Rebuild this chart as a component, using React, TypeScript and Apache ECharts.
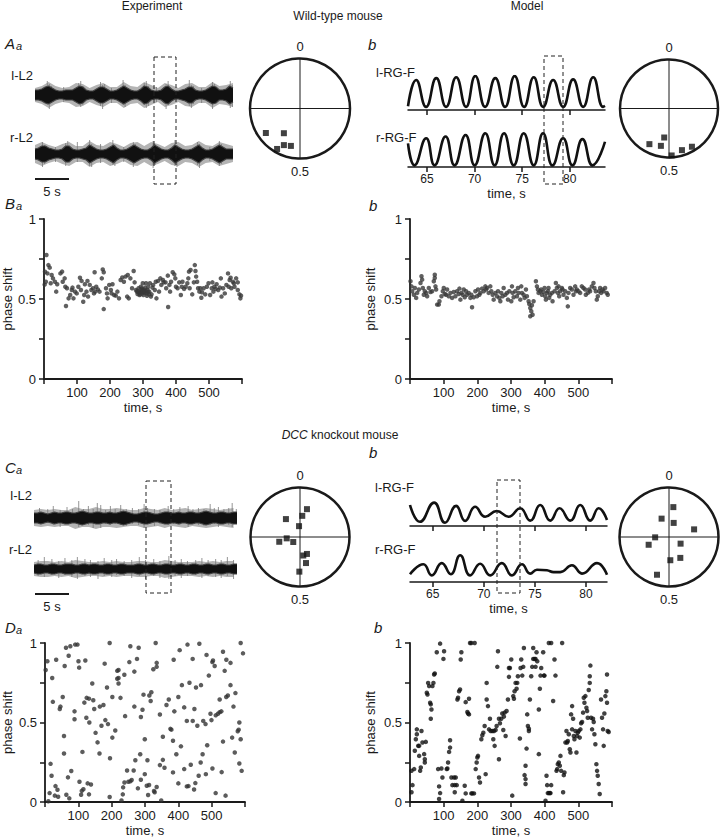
import React, { useEffect, useRef } from "react";
import * as echarts from "echarts";

const FONT = "'Liberation Sans', Arial, Helvetica, sans-serif";
const INK = "#1a1a1a";

// ---------------- Experiment: EMG traces (core envelope half-width, sampled every 0.5 s) -------------
const EMG_STEP_S = 0.5;
const wtExpLeftEnv = [5, 5, 6, 8, 9, 7, 5, 4, 4, 5, 5, 5, 7, 9, 8, 5, 4, 4, 6, 8, 8, 6, 4, 4, 5, 7, 9, 7, 5, 4, 4, 6, 9, 8, 5, 4, 4, 5, 8, 9, 6, 4, 4, 5, 6, 8, 8, 5, 4, 4, 5, 7, 9, 8, 5, 5, 6, 9, 7];
const wtExpRightEnv = [5, 6, 8, 8, 6, 5, 4, 4, 5, 8, 8, 5, 4, 4, 5, 6, 9, 7, 5, 4, 4, 5, 7, 9, 6, 4, 4, 5, 7, 9, 7, 5, 4, 4, 6, 9, 7, 5, 4, 4, 6, 9, 7, 5, 4, 4, 5, 7, 9, 6, 4, 4, 5, 7, 9, 7, 5, 5, 5];
const koExpLeftEnv = [5, 5, 6, 5, 4, 5, 6, 5, 5, 6, 6, 5, 5, 6, 7, 6, 5, 5, 6, 6, 5, 5, 6, 5, 5, 6, 7, 6, 5, 4, 4, 5, 6, 6, 5, 4, 4, 5, 6, 6, 5, 5, 6, 5, 5, 6, 6, 5, 5, 6, 7, 6, 5, 5, 6, 6, 5, 5, 6, 6];
const koExpRightEnv = [4, 5, 5, 4, 4, 5, 5, 4, 4, 5, 5, 5, 4, 4, 5, 5, 4, 5, 5, 4, 4, 5, 5, 4, 4, 5, 5, 4, 4, 4, 5, 5, 4, 4, 5, 5, 4, 4, 5, 5, 4, 4, 5, 5, 4, 4, 5, 5, 4, 4, 5, 5, 4, 4, 5, 5, 4, 4, 5, 5];

// outer (grey, hairy) envelope half-width, sampled every 1 s
const EMG_OUTER_STEP_S = 1;
const wtExpLeftOuter = [7, 9, 13, 9, 7, 8, 12, 11, 7, 10, 12, 8, 8, 13, 9, 8, 13, 10, 7, 12, 10, 7, 11, 12, 8, 8, 13, 9, 10, 12];
const wtExpRightOuter = [9, 12, 9, 7, 10, 12, 8, 8, 13, 9, 8, 12, 10, 7, 11, 12, 8, 12, 10, 7, 11, 12, 8, 9, 13, 9, 8, 12, 10, 8];
const koExpLeftOuter = [8, 9, 8, 9, 8, 8, 11, 9, 9, 11, 9, 9, 10, 9, 8, 8, 10, 9, 8, 10, 8, 9, 10, 8, 9, 10, 9, 8, 9, 10];
const koExpRightOuter = [7, 8, 8, 7, 8, 7, 9, 8, 7, 7, 8, 7, 8, 7, 7, 8, 8, 7, 7, 9, 8, 7, 7, 7, 8, 7, 8, 7, 8, 8];

// spikes: [time s, up, down]
const wtExpLeftSpikes = [[1.8, 14, 10], [2.1, 11, 14], [2.4, 9, 8], [6.4, 12, 9], [6.7, 14, 12], [7.0, 9, 10], [9.6, 13, 11], [9.9, 10, 14], [10.2, 11, 8], [12.9, 15, 10], [13.2, 10, 12], [16.0, 12, 10], [16.3, 14, 13], [16.6, 9, 11], [19.2, 11, 14], [19.5, 14, 10], [22.6, 15, 11], [22.9, 10, 13], [23.2, 9, 9], [26.0, 13, 14], [26.3, 11, 9], [28.6, 14, 13], [28.9, 10, 12], [4.2, 8, 7], [11.2, 7, 8], [17.8, 8, 7], [24.4, 7, 8]];
const wtExpRightSpikes = [[1.1, 12, 13], [1.4, 9, 10], [4.5, 11, 12], [4.8, 13, 9], [8.0, 14, 12], [8.3, 10, 13], [11.4, 14, 11], [11.7, 9, 12], [14.4, 12, 13], [14.7, 10, 9], [17.3, 13, 14], [17.6, 10, 11], [20.5, 14, 12], [20.8, 9, 13], [23.8, 12, 11], [24.1, 10, 14], [27.0, 13, 12], [27.3, 10, 10], [3.0, 7, 8], [6.2, 12, 8], [9.6, 10, 9], [13.0, 7, 8], [25.6, 7, 7]];
const koExpLeftSpikes = [[0.8, 10, 6], [2.0, 9, 5], [2.8, 12, 7], [3.8, 8, 9], [4.8, 11, 6], [5.6, 9, 5], [6.5, 17, 9], [7.2, 9, 6], [7.9, 12, 7], [8.6, 9, 10], [9.2, 15, 6], [9.7, 13, 10], [10.4, 8, 6], [11.1, 12, 7], [11.8, 9, 6], [12.6, 13, 7], [13.4, 9, 8], [14.3, 10, 6], [15.2, 9, 7], [16.0, 14, 10], [16.5, 10, 6], [17.5, 9, 8], [18.3, 8, 6], [19.5, 12, 7], [20.3, 9, 6], [21.2, 11, 7], [22.4, 12, 9], [23.1, 9, 6], [23.9, 10, 7], [24.7, 9, 8], [25.6, 14, 7], [26.2, 10, 6], [26.8, 11, 9], [27.6, 9, 6], [28.3, 10, 7], [28.8, 15, 9], [29.4, 9, 6]];
const koExpRightSpikes = [[0.6, 9, 7], [1.5, 12, 8], [2.6, 10, 6], [3.6, 8, 9], [4.5, 11, 6], [5.5, 9, 8], [6.3, 12, 10], [7.4, 10, 7], [8.2, 9, 8], [9.3, 8, 10], [10.2, 11, 7], [11.3, 9, 8], [12.0, 10, 6], [13.1, 8, 7], [14.2, 9, 9], [15.3, 12, 7], [16.2, 9, 10], [17.4, 10, 7], [18.3, 8, 9], [19.6, 13, 10], [20.5, 9, 7], [21.4, 10, 9], [22.3, 8, 7], [23.5, 9, 6], [24.4, 11, 9], [25.3, 9, 7], [26.4, 10, 8], [27.2, 9, 9], [28.1, 12, 7], [29.0, 9, 10]];

// ---------------- Model: rhythm-generator flexor activity [time s, activity] -------------
const wtModelLeft = [[63.0, 0.02], [63.86, 0.87], [64.9, 0], [65.97, 0.93], [67.0, 0], [68.07, 0.96], [69.1, 0], [70.07, 1.0], [71.1, 0], [72.18, 0.93], [73.2, 0], [74.21, 1.0], [75.2, 0], [76.21, 0.96], [77.2, 0], [78.25, 0.87], [79.3, 0], [80.35, 0.89], [81.4, 0], [82.46, 0.96], [83.5, 0], [83.7, 0.03]];
const wtModelRight = [[63.0, 0.68], [63.68, 0], [64.91, 0.84], [65.79, 0], [66.95, 0.89], [67.89, 0], [69.05, 0.94], [70.0, 0], [71.12, 0.99], [72.1, 0], [73.09, 0.99], [74.11, 0], [75.16, 0.99], [76.21, 0], [77.19, 0.99], [78.18, 0], [79.3, 0.84], [80.28, 0], [81.33, 0.81], [82.39, 0], [83.7, 0.73]];
const koModelLeft = [[62.77, 0.7], [63.75, 0.14], [65.13, 0.78], [66.2, 0.11], [67.28, 0.67], [68.17, 0.17], [69.15, 0.64], [70.13, 0.31], [71.27, 0.5], [72.41, 0.31], [73.56, 0.59], [74.54, 0.18], [75.52, 0.7], [76.5, 0.18], [77.41, 0.59], [78.46, 0.18], [79.44, 0.7], [80.42, 0.18], [81.24, 0.59], [82.06, 0.2]];
const koModelRight = [[62.77, 0.26], [64.08, 0.59], [64.9, 0.22], [65.88, 0.63], [66.76, 0.26], [67.68, 0.89], [68.66, 0.22], [69.64, 0.61], [70.62, 0.22], [71.76, 0.63], [72.75, 0.22], [73.73, 0.59], [74.54, 0.28], [75.2, 0.41], [76.18, 0.39], [76.83, 0.33], [77.48, 0.33], [78.63, 0.56], [79.61, 0.28], [81.08, 0.63], [82.06, 0.24]];
const MODEL_TICKS = [65, 70, 75, 80];

// ---------------- Circular phase plots [radius, phase] -------------
const wtExpPhases = [[0.84, 0.651], [0.59, 0.592], [0.8, 0.566], [0.77, 0.538], [0.93, 0.582]];
const wtModelPhases = [[0.83, 0.58], [0.78, 0.534], [0.6, 0.526], [0.96, 0.491], [0.89, 0.452], [0.91, 0.414]];
const koExpPhases = [[0.58, 0.039], [0.43, 0.017], [0.46, 0.894], [0.22, 0.986], [0.27, 0.734], [0.43, 0.714], [0.17, 0.648], [0.37, 0.438], [0.38, 0.472], [0.54, 0.464], [0.7, 0.503]];
const koModelPhases = [[0.61, 0.023], [0.4, 0.939], [0.3, 0.051], [0.53, 0.203], [0.28, 0.746], [0.44, 0.692], [0.27, 0.333], [0.48, 0.421], [0.47, 0.491], [0.8, 0.549]];

// ---------------- Phase shift vs time [time s, phase] -------------
const wtExpShift = [[2, 0.59], [3, 0.67], [7.4, 0.775], [13.3, 0.712], [17.3, 0.696], [10.4, 0.66], [5.5, 0.608], [23.2, 0.65], [27.2, 0.629], [33.1, 0.608], [20.3, 0.598], [40, 0.592], [37, 0.546], [49.8, 0.66], [54.8, 0.671], [56.7, 0.608], [62.6, 0.629], [64.6, 0.577], [69.6, 0.567], [74.5, 0.504], [79.4, 0.525], [84.3, 0.556], [86.3, 0.571], [89.3, 0.504], [66.6, 0.456], [94.2, 0.546], [99.1, 0.535], [104.1, 0.577], [109, 0.633], [112, 0.556], [113.9, 0.613], [118.9, 0.483], [121.8, 0.525], [123.8, 0.592], [128.7, 0.546], [131.7, 0.613], [133.6, 0.515], [138.6, 0.588], [143.5, 0.556], [148.4, 0.567], [151.4, 0.535], [153.4, 0.667], [155.3, 0.546], [158.3, 0.577], [163.2, 0.56], [168.2, 0.546], [178, 0.685], [181, 0.667], [181, 0.437], [175.1, 0.629], [187.9, 0.567], [190.8, 0.535], [192.8, 0.504], [197.7, 0.588], [202.7, 0.556], [204.6, 0.535], [207.6, 0.592], [212.5, 0.525], [217.5, 0.521], [222.4, 0.546], [227.3, 0.504], [232.2, 0.619], [237.2, 0.635], [242.1, 0.608], [247, 0.64], [252, 0.515], [253.9, 0.65], [256.9, 0.504], [261.8, 0.629], [266.8, 0.567], [271.7, 0.675], [274.6, 0.604], [278.6, 0.556], [281.5, 0.546], [283.5, 0.531], [286.5, 0.567], [289.4, 0.525], [291.4, 0.542], [293.4, 0.577], [296.3, 0.556], [299.3, 0.598], [301.3, 0.525], [303.2, 0.546], [306.2, 0.571], [309.2, 0.598], [311.1, 0.535], [313.1, 0.556], [316.1, 0.577], [319, 0.546], [321, 0.598], [324, 0.515], [325.9, 0.529], [328.9, 0.571], [330.8, 0.588], [335.8, 0.556], [338.7, 0.608], [340.7, 0.504], [345.6, 0.613], [348.6, 0.546], [352.5, 0.629], [355.5, 0.588], [360.4, 0.619], [362.4, 0.604], [368.3, 0.604], [370.3, 0.567], [375.2, 0.646], [376.2, 0.45], [380.1, 0.588], [382.1, 0.546], [385.1, 0.608], [390, 0.667], [394.9, 0.654], [397.9, 0.629], [399.9, 0.577], [404.8, 0.567], [409.7, 0.604], [414.7, 0.525], [417.6, 0.577], [419.6, 0.608], [424.5, 0.563], [429.4, 0.577], [434.4, 0.598], [437.3, 0.629], [439.3, 0.671], [441.3, 0.567], [444.2, 0.681], [449.2, 0.529], [454.1, 0.604], [457, 0.712], [459, 0.675], [461, 0.64], [464, 0.608], [466.9, 0.567], [470.9, 0.546], [473.8, 0.567], [476.8, 0.508], [478.7, 0.542], [483.7, 0.567], [488.6, 0.529], [493.5, 0.577], [498.5, 0.598], [503.4, 0.525], [508.3, 0.567], [510.3, 0.604], [513.3, 0.546], [516.2, 0.577], [520.2, 0.563], [523.1, 0.592], [528, 0.556], [533, 0.571], [535.9, 0.629], [537.9, 0.515], [542.8, 0.567], [547.8, 0.535], [552.7, 0.588], [557.6, 0.66], [559.6, 0.577], [562.6, 0.619], [565.5, 0.633], [567.5, 0.567], [572.4, 0.608], [575.4, 0.598], [577.3, 0.577], [582.3, 0.629], [587.2, 0.556], [592.1, 0.529], [595.1, 0.504], [597.1, 0.521], [587.2, 0.604], [284, 0.55], [288, 0.54], [292, 0.53], [295, 0.545], [298, 0.535], [302, 0.56], [305, 0.54], [308, 0.55], [312, 0.52], [315, 0.545], [318, 0.53], [296, 0.565], [300, 0.55]];
const wtModelShift = [[1.5, 0.611], [4.5, 0.579], [6.5, 0.548], [11.4, 0.527], [14.4, 0.569], [18.3, 0.507], [21.3, 0.538], [26.2, 0.559], [31.2, 0.6], [34.1, 0.642], [36.1, 0.621], [38.1, 0.569], [41, 0.527], [44, 0.548], [48, 0.538], [50.9, 0.517], [55.9, 0.569], [60.8, 0.544], [65.7, 0.548], [70.7, 0.611], [73.6, 0.652], [73.6, 0.631], [75.6, 0.579], [77.6, 0.559], [80.6, 0.465], [85.5, 0.465], [87.5, 0.486], [93.4, 0.517], [97.4, 0.548], [100.3, 0.569], [103.3, 0.531], [107.2, 0.527], [110.2, 0.559], [115.1, 0.517], [120.1, 0.538], [125, 0.507], [130, 0.544], [134.9, 0.517], [139.8, 0.548], [144.8, 0.531], [146.8, 0.565], [149.7, 0.496], [152.7, 0.538], [156.6, 0.527], [159.6, 0.559], [162.6, 0.511], [166.5, 0.548], [169.5, 0.527], [174.4, 0.538], [179.4, 0.507], [182.3, 0.527], [184.3, 0.448], [189.2, 0.511], [194.2, 0.548], [199.1, 0.517], [202.1, 0.559], [206, 0.527], [209, 0.538], [214, 0.565], [218.9, 0.548], [223.8, 0.579], [225.8, 0.559], [228.8, 0.569], [233.7, 0.538], [238.6, 0.579], [241.6, 0.548], [245.6, 0.527], [248.5, 0.496], [253.5, 0.538], [258.4, 0.517], [261.4, 0.548], [265.3, 0.507], [268.3, 0.486], [271.2, 0.538], [275.2, 0.517], [278.2, 0.569], [283.1, 0.527], [288, 0.538], [291, 0.496], [295, 0.548], [300.9, 0.486], [302.9, 0.579], [304.8, 0.538], [307.8, 0.511], [312.7, 0.548], [317.7, 0.517], [320.6, 0.569], [322.6, 0.538], [327.6, 0.496], [330.5, 0.579], [332.5, 0.538], [337.4, 0.527], [340.4, 0.507], [344.4, 0.559], [347.3, 0.517], [352.3, 0.486], [354.2, 0.469], [357.2, 0.444], [360.2, 0.423], [362.1, 0.461], [357.2, 0.392], [364.1, 0.402], [367.1, 0.486], [374, 0.611], [377, 0.579], [379.9, 0.559], [381.9, 0.538], [386.8, 0.548], [389.8, 0.559], [391.8, 0.527], [396.7, 0.544], [399.7, 0.569], [401.7, 0.517], [403.6, 0.496], [406.6, 0.538], [409.6, 0.548], [411.5, 0.569], [413.5, 0.507], [416.5, 0.527], [421.4, 0.538], [423.4, 0.486], [429.3, 0.548], [433.3, 0.6], [436.2, 0.569], [439.2, 0.538], [441.2, 0.579], [443.2, 0.517], [446.1, 0.548], [451.1, 0.569], [453, 0.559], [456, 0.527], [461, 0.548], [465.9, 0.507], [468.8, 0.454], [470.8, 0.538], [475.8, 0.569], [480.7, 0.559], [485.6, 0.527], [490.6, 0.579], [492.6, 0.548], [495.5, 0.559], [500.5, 0.548], [505.4, 0.538], [510.3, 0.579], [515.3, 0.569], [520.2, 0.559], [522.2, 0.527], [528.1, 0.538], [532.1, 0.559], [535, 0.548], [540, 0.579], [545, 0.6], [547.9, 0.569], [551.8, 0.548], [554.8, 0.496], [557.8, 0.517], [561.7, 0.548], [564.7, 0.569], [567.6, 0.538], [571.6, 0.559], [574.6, 0.548], [579.5, 0.569], [584.4, 0.538], [587.4, 0.527]];
const koExpShift = [[2, 0.83], [7, 0.885], [21.6, 0.78], [33.5, 0.895], [63, 0.97], [71, 0.92], [76, 0.98], [90.6, 0.99], [97.5, 0.99], [100.4, 0.885], [102.4, 0.845], [121, 0.89], [59, 0.855], [194, 1.0], [179, 0.87], [216.7, 0.825], [220.6, 0.83], [216.7, 0.775], [220.6, 0.78], [220.6, 0.745], [256, 0.98], [253, 0.88], [268, 0.82], [276, 0.9], [281, 0.97], [238, 0.8], [332, 1.0], [335, 0.875], [335, 0.85], [325, 0.835], [386, 0.895], [404, 0.955], [427.5, 0.99], [443, 0.9], [463, 0.995], [484.6, 0.925], [491.5, 0.795], [502, 0.88], [504, 0.89], [509, 0.855], [534, 0.945], [539, 0.825], [544, 0.895], [556.5, 0.875], [587, 1.0], [594, 0.935], [141.8, 0.745], [23.6, 0.63], [46.3, 0.6], [44.3, 0.585], [53.2, 0.66], [88.6, 0.57], [88.6, 0.52], [118, 0.625], [125, 0.655], [132, 0.65], [144.8, 0.64], [147.7, 0.585], [164.5, 0.6], [175.3, 0.61], [124, 0.53], [133, 0.5], [151.7, 0.435], [157.6, 0.375], [163.5, 0.305], [169.4, 0.48], [181, 0.515], [189, 0.49], [210.8, 0.45], [202, 0.405], [186, 0.72], [202, 0.66], [226.5, 0.655], [240.3, 0.54], [268, 0.6], [287.7, 0.535], [292.5, 0.58], [295.5, 0.675], [313, 0.67], [319, 0.69], [317, 0.635], [299.4, 0.395], [344.7, 0.55], [353.6, 0.41], [364.4, 0.61], [371.3, 0.645], [376.2, 0.46], [379.2, 0.455], [384, 0.385], [388, 0.57], [400, 0.66], [410.7, 0.735], [417.6, 0.595], [425.5, 0.51], [433.4, 0.75], [443.2, 0.51], [448.2, 0.585], [453, 0.72], [457, 0.48], [468, 0.735], [474.7, 0.51], [481.6, 0.49], [496.4, 0.555], [499.4, 0.515], [512.2, 0.545], [519, 0.555], [524, 0.565], [529, 0.57], [524, 0.645], [534, 0.38], [543.7, 0.66], [548.6, 0.67], [556.5, 0.735], [565.4, 0.6], [571.3, 0.685], [578.2, 0.445], [581, 0.455], [583, 0.5], [587, 0.395], [57, 0.415], [57, 0.305], [112.3, 0.315], [195, 0.275], [16.7, 0.24], [19.7, 0.165], [31.5, 0.1], [37.4, 0.077], [13.8, 0.056], [29.5, 0.04], [39.4, 0.033], [68.9, 0.155], [78.8, 0.195], [64, 0.046], [72.9, 0.023], [103.4, 0.127], [110.3, 0.07], [115.2, 0.08], [108.3, 0.046], [128, 0.117], [137.9, 0.11], [132, 0.048], [194, 0.031], [229.5, 0.01], [234.4, 0.092], [233.4, 0.048], [238.4, 0.123], [246.2, 0.198], [250.2, 0.127], [256, 0.13], [260, 0.138], [266, 0.198], [271, 0.263], [278.7, 0.086], [285.6, 0.3], [287.6, 0.14], [299.4, 0.175], [305.3, 0.102], [307.3, 0.263], [312.2, 0.107], [309.3, 0.044], [327, 0.069], [329, 0.061], [335, 0.094], [348.7, 0.01], [344.7, 0.232], [353.6, 0.265], [358.5, 0.215], [384, 0.186], [394, 0.3], [400, 0.117], [407.8, 0.35], [417.6, 0.207], [425.5, 0.098], [430.4, 0.1], [437.3, 0.234], [447.2, 0.079], [451, 0.119], [461, 0.165], [467, 0.248], [472.8, 0.3], [482.6, 0.175], [486.6, 0.357], [502.3, 0.211], [512, 0.056], [530, 0.188], [541.7, 0.04], [561.4, 0.405], [569.3, 0.311], [583, 0.242], [590, 0.196], [10, 0.005]];
const koModelShift = [[4.5, 0.061], [7.4, 0.106], [4.5, 0.196], [12.4, 0.207], [14.3, 0.322], [17.3, 0.395], [20.3, 0.457], [20.3, 0.426], [24.2, 0.353], [27.2, 0.353], [27.2, 0.29], [30.1, 0.196], [32.1, 0.217], [34.1, 0.447], [37, 0.374], [42, 0.301], [44, 0.269], [44, 0.248], [46.9, 0.378], [49.9, 0.687], [51.9, 0.676], [53.8, 0.749], [56.8, 0.729], [59.8, 0.624], [61.7, 0.614], [63.7, 0.582], [61.7, 0.524], [66.7, 0.729], [69.6, 0.749], [71.6, 0.802], [73.6, 0.808], [79.5, 0.942], [89.4, 0.996], [99.3, 0.9], [101.2, 0.948], [83.5, 0.207], [86.4, 0.098], [89.4, 0.056], [86.4, 0.019], [93.3, 0.211], [96.3, 0.154], [109.1, 0.207], [111.1, 0.211], [113.1, 0.248], [116.1, 0.315], [119, 0.342], [119, 0.388], [123, 0.154], [125.9, 0.106], [130.9, 0.154], [132.9, 0.106], [135.8, 0.154], [132.9, 0.061], [138.8, 0.106], [140.8, 0.645], [142.7, 0.656], [145.7, 0.697], [148.7, 0.708], [150.6, 0.896], [152.6, 0.942], [155.6, 0.008], [162.5, 0.102], [165.4, 0.054], [165.4, 0.628], [170.4, 0.566], [172.4, 0.557], [175.3, 0.649], [175.3, 0.551], [178.3, 1.0], [182.2, 1.0], [182.2, 0.054], [185.2, 0.054], [190.1, 0.054], [192.1, 1.0], [195.1, 0.207], [198, 0.248], [200, 0.28], [202, 0.29], [205, 0.154], [207.9, 0.123], [211.9, 0.395], [214.8, 0.42], [217.8, 0.436], [221.7, 0.478], [224.7, 0.175], [227.7, 0.749], [227.7, 0.645], [231.6, 0.603], [234.6, 0.457], [237.5, 0.524], [239.5, 0.447], [244.5, 0.447], [247.4, 0.395], [249.4, 0.447], [251.4, 0.353], [254.3, 0.453], [257.3, 0.478], [259.3, 0.85], [261.3, 0.948], [264.2, 0.524], [264.2, 0.269], [267.2, 0.495], [271.1, 0.524], [274.1, 0.557], [277.1, 0.453], [279, 0.537], [281, 0.562], [284, 0.415], [286.9, 0.572], [290.9, 0.645], [293.9, 0.787], [293.9, 0.843], [296.8, 0.843], [300.8, 0.896], [303.7, 0.04], [306.7, 0.666], [308.7, 0.649], [310.6, 0.697], [313.6, 0.749], [316.6, 0.712], [318.5, 0.749], [320.5, 0.791], [326.4, 0.399], [328.4, 0.843], [330.4, 0.896], [333.4, 0.795], [336.3, 0.85], [338.3, 0.969], [340.3, 0.169], [343.2, 0.228], [343.2, 0.144], [343.2, 0.113], [346.2, 0.336], [348.2, 0.551], [350.2, 0.478], [353.1, 0.461], [353.1, 0.447], [356.1, 0.645], [360, 0.791], [363, 0.85], [366, 0.9], [366, 0.969], [369.9, 0.9], [372.9, 0.85], [372.9, 0.9], [375.8, 0.942], [377.8, 0.885], [382.7, 0.301], [382.7, 0.582], [385.7, 0.712], [387.7, 0.795], [389.7, 0.843], [395.6, 0.942], [397.6, 0.795], [399.5, 0.795], [402.5, 0.008], [405.5, 0.165], [407.4, 0.106], [409.4, 0.056], [412.4, 0.056], [415.3, 0.056], [417.3, 0.056], [419.3, 0.106], [412.4, 1.0], [419.3, 1.0], [425.2, 0.635], [429.2, 0.896], [432.1, 0.795], [435.1, 0.196], [437.1, 0.207], [439, 0.238], [442, 0.248], [445, 0.228], [446.9, 0.29], [448.9, 0.196], [451.9, 1.0], [454.8, 0.061], [456.8, 0.169], [458.8, 0.186], [461.8, 0.374], [464.7, 0.447], [466.7, 0.374], [468.7, 0.384], [471.6, 0.426], [474.6, 0.332], [476.6, 0.311], [478.5, 0.551], [481.5, 0.603], [481.5, 0.457], [484.5, 0.524], [486.5, 0.415], [488.4, 0.395], [491.4, 0.447], [494.4, 0.311], [496.3, 0.415], [498.3, 0.436], [501.3, 0.447], [504.2, 0.405], [506.2, 0.457], [508.2, 0.495], [511.1, 0.503], [514.1, 0.562], [516.1, 0.656], [518.1, 0.624], [521, 0.666], [524, 0.593], [526, 0.572], [527.9, 0.53], [530.9, 0.704], [533.9, 0.749], [533.9, 0.791], [535.8, 0.858], [537.8, 0.53], [540.8, 0.457], [543.7, 0.524], [545.7, 0.503], [547.7, 0.426], [550.6, 0.363], [553.6, 0.238], [555.6, 0.196], [557.6, 0.165], [560.5, 0.113], [563.5, 0.05], [567.4, 0.645], [570.4, 0.53], [573.4, 0.457], [575.4, 0.353], [577.3, 0.557], [580.3, 0.666], [583.3, 0.697], [585.2, 0.802], [585.2, 0.624], [587.2, 0.447], [590.2, 0.44]];

const PHASE_X_LABELS = [100, 200, 300, 400, 500];
const PHASE_Y_LABELS = [0, 0.5, 1];

const txt = (size: number, extra: any = {}) => ({ fontFamily: FONT, fontSize: size, color: INK, ...extra });

function emgX(gridIndex: number, max: number) {
  return { gridIndex, type: "value", min: 0, max, show: false };
}
function hiddenY(gridIndex: number, min: number, max: number) {
  return { gridIndex, type: "value", min, max, show: false };
}
function modelX(gridIndex: number, min: number, max: number, labels: boolean) {
  return {
    gridIndex, type: "value", min, max,
    axisLine: { onZero: false, lineStyle: { color: INK, width: 1.5 } },
    axisTick: { show: true, inside: false, length: 5, customValues: MODEL_TICKS, lineStyle: { color: INK, width: 1.5 } },
    axisLabel: { show: labels, customValues: MODEL_TICKS, margin: 6, ...txt(12) },
    splitLine: { show: false },
    name: labels ? "time, s" : "",
    nameLocation: "middle",
    nameGap: 20,
    nameTextStyle: txt(13),
  };
}
function phaseX(gridIndex: number) {
  return {
    gridIndex, type: "value", min: 0, max: 600, interval: 100,
    axisLine: { onZero: false, lineStyle: { color: INK, width: 1.8 } },
    axisTick: { length: 5, lineStyle: { color: INK, width: 1.5 } },
    axisLabel: { margin: 7, ...txt(13), formatter: (v: number) => (PHASE_X_LABELS.includes(v) ? String(v) : "") },
    splitLine: { show: false },
    name: "time, s", nameLocation: "middle", nameGap: 22, nameTextStyle: txt(13),
  };
}
function phaseY(gridIndex: number, gap: number) {
  return {
    gridIndex, type: "value", min: 0, max: 1, interval: 0.25,
    axisLine: { onZero: false, lineStyle: { color: INK, width: 1.8 } },
    axisTick: { length: 5, lineStyle: { color: INK, width: 1.5 } },
    axisLabel: { margin: 8, ...txt(13), formatter: (v: number) => (PHASE_Y_LABELS.includes(v) ? String(v) : "") },
    splitLine: { show: false },
    name: "phase shift", nameLocation: "middle", nameRotate: 90, nameGap: gap, nameTextStyle: txt(13),
  };
}

function emgSeries(idx: number, env: number[], outer: number[], spikes: number[][]) {
  const band = (values: number[], step: number, sign: number, fill: string, edge: string, edgeW: number, z: number) => ({
    type: "line", xAxisIndex: idx, yAxisIndex: idx, silent: true, z,
    data: values.map((v, i) => [i * step, sign * v]),
    symbol: "none",
    lineStyle: { color: edge, width: edgeW },
    areaStyle: { color: fill, opacity: 1 },
  });
  return [
    band(outer, EMG_OUTER_STEP_S, 1, "#b4b4b4", "#b4b4b4", 0, 1),
    band(outer, EMG_OUTER_STEP_S, -1, "#b4b4b4", "#b4b4b4", 0, 1),
    {
      type: "custom", xAxisIndex: idx, yAxisIndex: idx, silent: true, z: 2,
      dimensions: ["t", "up", "down"],
      encode: { x: "t", y: ["up"] },
      data: spikes,
      renderItem: (_p: any, api: any) => {
        const a = api.coord([api.value(0), api.value(1)]);
        const b = api.coord([api.value(0), -api.value(2)]);
        return { type: "line", shape: { x1: a[0], y1: a[1], x2: b[0], y2: b[1] }, style: { stroke: "#7a7a7a", lineWidth: 0.8 } };
      },
    },
    band(env, EMG_STEP_S, 1, "#111", "#444", 1.2, 3),
    band(env, EMG_STEP_S, -1, "#111", "#444", 1.2, 3),
  ];
}
function modelSeries(idx: number, data: number[][]) {
  return {
    type: "line", xAxisIndex: idx, yAxisIndex: idx, silent: true, data, smooth: 0.5,
    symbol: "none", lineStyle: { color: "#111", width: 2.6 },
  };
}
function shiftSeries(idx: number, data: number[][], color: string) {
  return { type: "scatter", xAxisIndex: idx, yAxisIndex: idx, silent: true, data, symbolSize: 4.5, itemStyle: { color } };
}
function polarSeries(polarIndex: number, data: number[][]) {
  return { type: "scatter", coordinateSystem: "polar", polarIndex, silent: true, data, symbol: "rect", symbolSize: 6, itemStyle: { color: "#111" } };
}

const panelLetter = (x: number, y: number, big: string, small: string) => [
  { type: "text", left: x, top: y, style: { text: big, font: `italic 15px ${FONT}`, fill: INK } },
  ...(small ? [{ type: "text", left: x + 11, top: y + 4, style: { text: small, font: `italic 11px ${FONT}`, fill: INK } }] : []),
];
const centered = (x: number, y: number, text: string, size = 12) => ({
  type: "text", x, y, style: { text, font: `${size}px ${FONT}`, fill: INK, align: "center", verticalAlign: "middle" },
});
const leftText = (x: number, y: number, text: string, align = "left") => ({
  type: "text", x, y, style: { text, font: `13px ${FONT}`, fill: INK, align, verticalAlign: "middle" },
});
const dashedBox = (x: number, y: number, w: number, h: number) => ({
  type: "rect", shape: { x, y, width: w, height: h }, style: { fill: "none", stroke: "#222", lineWidth: 1, lineDash: [4, 3] }, z: 10,
});
const scaleBar = (x: number, y: number, len: number) => [
  { type: "line", shape: { x1: x, y1: y, x2: x + len, y2: y }, style: { stroke: INK, lineWidth: 2 } },
  centered(x + len / 2, y + 12, "5 s", 13),
];

function buildOption() {
  const polars = [
    { center: [300, 108.5], radius: 50 },
    { center: [669, 108.5], radius: 49 },
    { center: [300, 537], radius: 49.5 },
    { center: [669, 537], radius: 49.5 },
  ];
  return {
    animation: false,
    backgroundColor: "#fff",
    textStyle: { fontFamily: FONT },
    grid: [
      { left: 35, top: 70, width: 198, height: 50 },
      { left: 35, top: 129, width: 198, height: 50 },
      { left: 408, top: 76, width: 197, height: 34 },
      { left: 408, top: 133, width: 197, height: 34 },
      { left: 40, top: 219, width: 202, height: 160 },
      { left: 410, top: 219, width: 202, height: 160 },
      { left: 34, top: 493, width: 203, height: 50 },
      { left: 34, top: 544, width: 203, height: 50 },
      { left: 410, top: 496, width: 197, height: 30 },
      { left: 410, top: 552, width: 197, height: 30 },
      { left: 43, top: 643, width: 202, height: 159 },
      { left: 410, top: 643, width: 202, height: 159 },
    ],
    xAxis: [
      emgX(0, 29), emgX(1, 29),
      modelX(2, 63, 83.7, false), modelX(3, 63, 83.7, true),
      phaseX(4), phaseX(5),
      emgX(6, 29.5), emgX(7, 29.5),
      modelX(8, 62.77, 82.06, false), modelX(9, 62.77, 82.06, true),
      phaseX(10), phaseX(11),
    ],
    yAxis: [
      hiddenY(0, -25, 25), hiddenY(1, -25, 25),
      hiddenY(2, -0.1, 1), hiddenY(3, -0.05, 1),
      phaseY(4, 30), phaseY(5, 33),
      hiddenY(6, -25, 25), hiddenY(7, -25, 25),
      hiddenY(8, 0, 1), hiddenY(9, 0, 1),
      phaseY(10, 31), phaseY(11, 33),
    ],
    polar: polars,
    angleAxis: polars.map((_, i) => ({
      polarIndex: i, type: "value", min: 0, max: 1, interval: 0.25, startAngle: 90, clockwise: true,
      axisLine: { lineStyle: { color: INK, width: 2.5 } },
      axisTick: { show: false },
      axisLabel: { margin: 6, ...txt(13), formatter: (v: number) => (v === 0 ? "0" : v === 0.5 ? "0.5" : "") },
      splitLine: { show: true, lineStyle: { color: INK, width: 1 } },
    })),
    radiusAxis: polars.map((_, i) => ({ polarIndex: i, type: "value", min: 0, max: 1, show: false })),
    series: [
      ...emgSeries(0, wtExpLeftEnv, wtExpLeftOuter, wtExpLeftSpikes),
      ...emgSeries(1, wtExpRightEnv, wtExpRightOuter, wtExpRightSpikes),
      modelSeries(2, wtModelLeft),
      modelSeries(3, wtModelRight),
      shiftSeries(4, wtExpShift, "#383838"),
      shiftSeries(5, wtModelShift, "#383838"),
      ...emgSeries(6, koExpLeftEnv, koExpLeftOuter, koExpLeftSpikes),
      ...emgSeries(7, koExpRightEnv, koExpRightOuter, koExpRightSpikes),
      modelSeries(8, koModelLeft),
      modelSeries(9, koModelRight),
      shiftSeries(10, koExpShift, "#333"),
      shiftSeries(11, koModelShift, "#111"),
      polarSeries(0, wtExpPhases),
      polarSeries(1, wtModelPhases),
      polarSeries(2, koExpPhases),
      polarSeries(3, koModelPhases),
    ],
    graphic: [
      centered(152, 6, "Experiment"),
      centered(527, 6, "Model"),
      centered(338, 16, "Wild-type mouse"),
      {
        type: "text", x: 340, y: 435,
        style: {
          text: "{i|DCC} knockout mouse", align: "center", verticalAlign: "middle",
          font: `12px ${FONT}`, fill: INK,
          rich: { i: { fontStyle: "italic", fontFamily: FONT, fontSize: 12, fill: INK } },
        },
      },
      ...panelLetter(5, 36, "A", "a"),
      ...panelLetter(368, 37, "b", ""),
      ...panelLetter(5, 196, "B", "a"),
      ...panelLetter(369, 198, "b", ""),
      ...panelLetter(5, 460, "C", "a"),
      ...panelLetter(369, 445, "b", ""),
      ...panelLetter(5, 620, "D", "a"),
      ...panelLetter(374, 620, "b", ""),
      leftText(33, 75, "l-L2", "right"),
      leftText(33, 137, "r-L2", "right"),
      leftText(376, 72, "l-RG-F"),
      leftText(376, 137, "r-RG-F"),
      leftText(32, 495, "l-L2", "right"),
      leftText(32, 549, "r-L2", "right"),
      leftText(375, 487, "l-RG-F"),
      leftText(375, 549, "r-RG-F"),
      dashedBox(154, 57, 22, 127),
      dashedBox(544, 56, 19, 128),
      dashedBox(146, 481, 25, 112),
      dashedBox(497, 480, 23, 113),
      ...scaleBar(35, 179, 34),
      ...scaleBar(35, 594, 34),
    ],
  };
}

export default function App() {
  const ref = useRef<HTMLDivElement>(null);
  useEffect(() => {
    const chart = echarts.init(ref.current as HTMLDivElement, null, { renderer: "svg" });
    chart.setOption(buildOption() as any);
    return () => chart.dispose();
  }, []);
  return (
    <div
      ref={ref}
      style={{ position: "fixed", left: 0, top: 0, width: 720, height: 839, background: "#fff" }}
    />
  );
}
